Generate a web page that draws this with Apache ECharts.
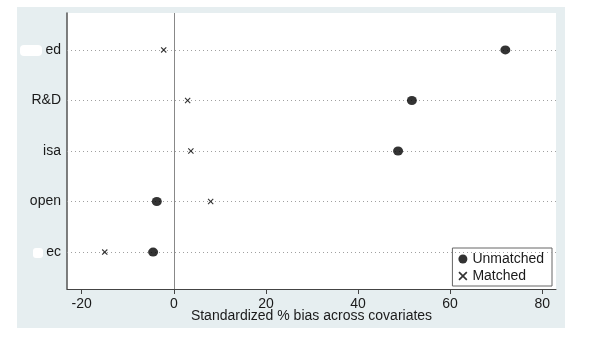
<!DOCTYPE html>
<html><head><meta charset="utf-8">
<script src="https://cdn.jsdelivr.net/npm/echarts@6/dist/echarts.min.js"></script>
<style>html,body{margin:0;padding:0;background:#fff}#c{width:590px;height:339px}</style>
</head><body><div id="c"></div>
<script>
const categories = ['ed', 'R&D', 'isa', 'open', 'ec'];
const unmatched = [72, 51.7, 48.7, -3.7, -4.5];
const matched = [-2.2, 3.0, 3.7, 8.0, -15.0];
const xTicks = [-20, 0, 20, 40, 60, 80];
const yPos = categories.map((c, i) => i + 1);

const crossPath = 'path://M0,1.3L1.3,0L5,3.7L8.7,0L10,1.3L6.3,5L10,8.7L8.7,10L5,6.3L1.3,10L0,8.7L3.7,5Z';
const font = 'Liberation Sans, Arial, sans-serif';

const chart = echarts.init(document.getElementById('c'), null, {renderer: 'canvas'});
chart.setOption({
  animation: false,
  backgroundColor: '#ffffff',
  graphic: [
    {type: 'rect', z: -10, shape: {x: 17, y: 7, width: 548, height: 321}, style: {fill: '#e6eef0'}},
    {type: 'rect', z: 100, shape: {x: 20, y: 45, width: 22, height: 11, r: 4}, style: {fill: '#ffffff'}},
    {type: 'rect', z: 100, shape: {x: 33, y: 248, width: 10, height: 10, r: 3}, style: {fill: '#ffffff'}}
  ],
  grid: {left: 67, right: 34, top: 13, bottom: 50, show: true, backgroundColor: '#ffffff', borderWidth: 0},
  xAxis: {
    type: 'value', min: -23.2, max: 83,
    axisLine: {show: true, lineStyle: {color: '#444', width: 1}},
    axisTick: {show: true, length: 5, lineStyle: {color: '#444'}, customValues: xTicks},
    axisLabel: {customValues: xTicks, color: '#1a1a1a', fontSize: 14, fontFamily: font, margin: 8},
    splitLine: {show: false},
    name: 'Standardized % bias across covariates',
    nameLocation: 'middle', nameGap: 20, nameMoveOverlap: false,
    nameTextStyle: {color: '#1a1a1a', fontSize: 14, fontFamily: font}
  },
  yAxis: {
    type: 'value', min: 0.27, max: 5.73, inverse: true,
    axisLine: {show: true, onZero: false, lineStyle: {color: '#555', width: 1.5}},
    axisTick: {show: false},
    axisLabel: {customValues: yPos, color: '#1a1a1a', fontSize: 14, fontFamily: font, margin: 6,
      formatter: v => categories[Math.round(v) - 1] || ''},
    splitLine: {show: false}
  },
  legend: {
    orient: 'vertical', right: 38, bottom: 53,
    backgroundColor: '#ffffff', borderColor: '#666', borderWidth: 1, borderRadius: 0,
    padding: [4, 8, 3, 6], itemGap: 3, itemWidth: 9, itemHeight: 9,
    textStyle: {color: '#1a1a1a', fontSize: 14, fontFamily: font},
    data: [
      {name: 'Unmatched', icon: 'circle'},
      {name: 'Matched', icon: crossPath}
    ]
  },
  series: [
    {
      name: 'Unmatched', type: 'scatter', symbol: 'circle', symbolSize: [10, 9],
      itemStyle: {color: '#000'},
      data: unmatched.map((v, i) => [v, yPos[i]]),
      z: 5,
      markLine: {
        silent: true, symbol: 'none', label: {show: false}, animation: false,
        lineStyle: {color: '#a0a0a0', type: [1, 3], width: 1},
        data: yPos.map(y => ({yAxis: y}))
      }
    },
    {
      name: 'Matched', type: 'scatter', symbol: crossPath, symbolSize: 6,
      itemStyle: {color: '#000'},
      data: matched.map((v, i) => [v, yPos[i]]),
      z: 5,
      markLine: {
        silent: true, symbol: 'none', label: {show: false}, animation: false,
        lineStyle: {color: '#888', type: 'solid', width: 1},
        data: [{xAxis: 0}]
      }
    }
  ]
});
</script></body></html>
